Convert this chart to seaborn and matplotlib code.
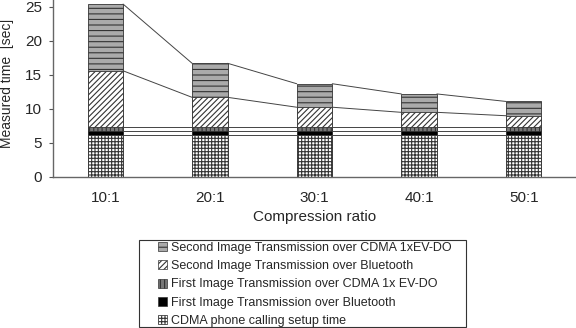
import matplotlib
matplotlib.use("Agg")
import matplotlib.pyplot as plt
from matplotlib.patches import Patch, Rectangle
import numpy as np
import pandas as pd
import seaborn as sns

sns.set_theme(style="white")
plt.rcParams["font.family"] = ["Liberation Sans", "DejaVu Sans"]
plt.rcParams["hatch.linewidth"] = 0.8

categories = ["10:1", "20:1", "30:1", "40:1", "50:1"]
setup_time = [6.2, 6.2, 6.2, 6.2, 6.2]
first_bt = [0.6, 0.6, 0.6, 0.6, 0.6]
first_cdma = [0.5, 0.5, 0.5, 0.5, 0.5]
second_bt = [8.3, 4.4, 2.95, 2.2, 1.7]
second_cdma = [9.8, 5.0, 3.45, 2.7, 2.1]

layers = [
    ("CDMA phone calling setup time", setup_time, "white", "+++++"),
    ("First Image Transmission over Bluetooth", first_bt, "black", None),
    ("First Image Transmission over CDMA 1x EV-DO", first_cdma, "#777777", "||||"),
    ("Second Image Transmission over Bluetooth", second_bt, "white", "//////"),
    ("Second Image Transmission over CDMA 1xEV-DO", second_cdma, "#aaaaaa", "---"),
]

fig = plt.figure(figsize=(5.76, 3.28), dpi=100)
ax = fig.add_axes([53 / 576, 1 - 177 / 328, 523 / 576, 177 / 328])

cum = np.cumsum([l[1] for l in layers], axis=0)
width = 0.34

# draw cumulative bars from tallest to shortest so each layer shows
for idx in range(len(layers) - 1, -1, -1):
    name, vals, fc, hatch = layers[idx]
    df = pd.DataFrame({"ratio": categories, "t": cum[idx]})
    n0 = len(ax.patches)
    sns.barplot(data=df, x="ratio", y="t", color=fc, width=width,
                saturation=1, edgecolor="#333333", linewidth=0.6, ax=ax)
    for p in ax.patches[n0:]:
        p.set_facecolor(fc)
        if hatch:
            p.set_hatch(hatch)

# series lines between bars
for level in cum:
    for i in range(len(categories) - 1):
        ax.plot([i + width / 2, i + 1 - width / 2], [level[i], level[i + 1]],
                color="#444444", lw=0.7)

ax.set_xlim(-0.5, 4.5)
ax.set_ylim(0, 26)
ax.set_yticks([0, 5, 10, 15, 20, 25])
ax.set_xticks(range(5))
ax.set_xticks(np.arange(0.5, 4.6, 1), minor=True)
ax.tick_params(axis="x", which="major", length=0, labelsize=11, pad=10)
ax.tick_params(axis="x", which="minor", length=4, direction="in", color="#555555")
ax.tick_params(axis="y", length=3, direction="out", color="#555555", width=0.8,
               labelsize=11, pad=5, left=True)
ax.set_xlabel("Compression ratio", fontsize=11, labelpad=4)
ax.set_ylabel("Measured time  [sec]", fontsize=10)
ax.yaxis.set_label_coords(-0.074, 0.53)
for s in ["top", "right"]:
    ax.spines[s].set_visible(False)
for s in ["left", "bottom"]:
    ax.spines[s].set_color("#666666")
    ax.spines[s].set_linewidth(1)

# legend box is wider than its entries, so draw the frame separately
fig.add_artist(Rectangle((139 / 576, 1 - 327 / 328), 327 / 576, 87 / 328,
                         transform=fig.transFigure, facecolor="white",
                         edgecolor="#333333", linewidth=0.8, zorder=1))
handles = [Patch(facecolor=fc, edgecolor="#333333", hatch=h, linewidth=0.5, label=n)
           for n, v, fc, h in layers[::-1]]
leg = fig.legend(handles=handles, loc="upper left",
                 bbox_to_anchor=(158 / 576, 1 - 242 / 328),
                 fontsize=9, frameon=False, handlelength=0.75,
                 handleheight=0.75, handletextpad=0.3, labelspacing=0.5,
                 borderpad=0, borderaxespad=0)
leg.set_zorder(2)

fig.savefig("out.png", dpi=100)
